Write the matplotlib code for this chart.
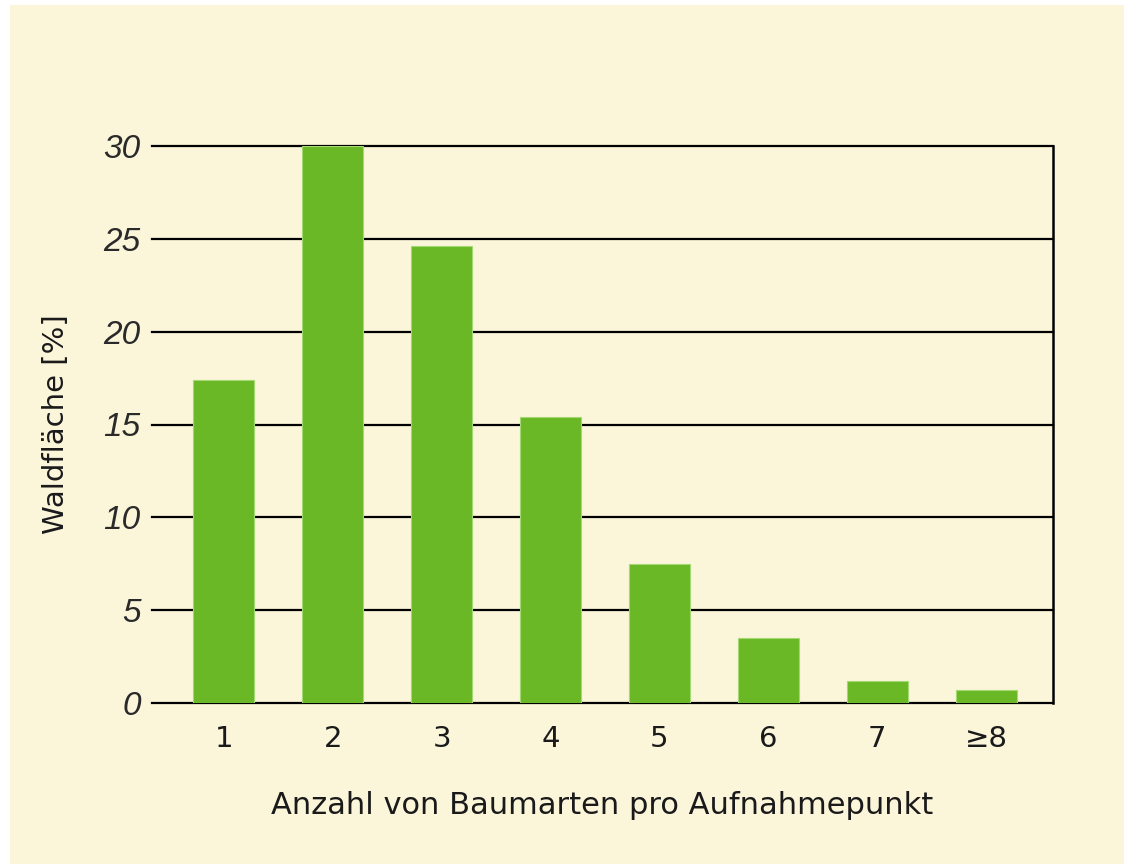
import matplotlib
matplotlib.use("Agg")
import matplotlib.pyplot as plt
from matplotlib.patches import Rectangle

# Data
categories = ["1", "2", "3", "4", "5", "6", "7", "\u22658"]
waldflaeche = [17.4, 30.0, 24.6, 15.4, 7.5, 3.5, 1.2, 0.7]
y_ticks = [0, 5, 10, 15, 20, 25, 30]

CREAM = "#fbf5d9"
GREEN = "#6bb826"
TEXT = "#1a1a1a"

plt.rcParams["font.family"] = ["Liberation Sans", "DejaVu Sans"]

fig = plt.figure(figsize=(11.24, 8.64), dpi=100, facecolor="white")

# cream panel behind everything (white strip on top and left)
bg = Rectangle((10 / 1124, 0), 1 - 10 / 1124, 1 - 5 / 864,
               transform=fig.transFigure, facecolor=CREAM,
               edgecolor="none", zorder=-10)
fig.add_artist(bg)

ax = fig.add_axes([152 / 1124, 161 / 864, 901 / 1124, 557 / 864])
ax.set_facecolor("none")
ax.set_zorder(1)

x = list(range(len(categories)))
ax.bar(x, waldflaeche, width=0.56, color=GREEN, edgecolor="#a3d873",
       linewidth=0.8, zorder=3)

# horizontal grid lines, drawn behind the bars
for v in y_ticks:
    ax.axhline(v, color="black", linewidth=1.6, zorder=1, clip_on=False)

ax.set_xlim(-0.66, 7.615)
ax.set_ylim(0, 30)

for side in ["left", "top", "bottom"]:
    ax.spines[side].set_visible(False)
ax.spines["right"].set_color("black")
ax.spines["right"].set_linewidth(1.8)

ax.set_xticks(x)
ax.set_xticklabels(categories, fontsize=21, family=["DejaVu Sans"])
ax.set_yticks(y_ticks)
ax.set_yticklabels([str(v) for v in y_ticks], fontsize=24, style="italic",
                   color="#2a2a2a")
ax.tick_params(axis="x", length=0, pad=16, colors=TEXT)
ax.tick_params(axis="y", length=0, pad=8)

ax.set_xlabel("Anzahl von Baumarten pro Aufnahmepunkt", fontsize=22,
              family=["DejaVu Sans"], color=TEXT, labelpad=27)
ax.set_ylabel("Waldfläche [%]", fontsize=21, family=["DejaVu Sans"],
              color=TEXT, labelpad=24)

fig.savefig("out.png", dpi=100, facecolor="white")
